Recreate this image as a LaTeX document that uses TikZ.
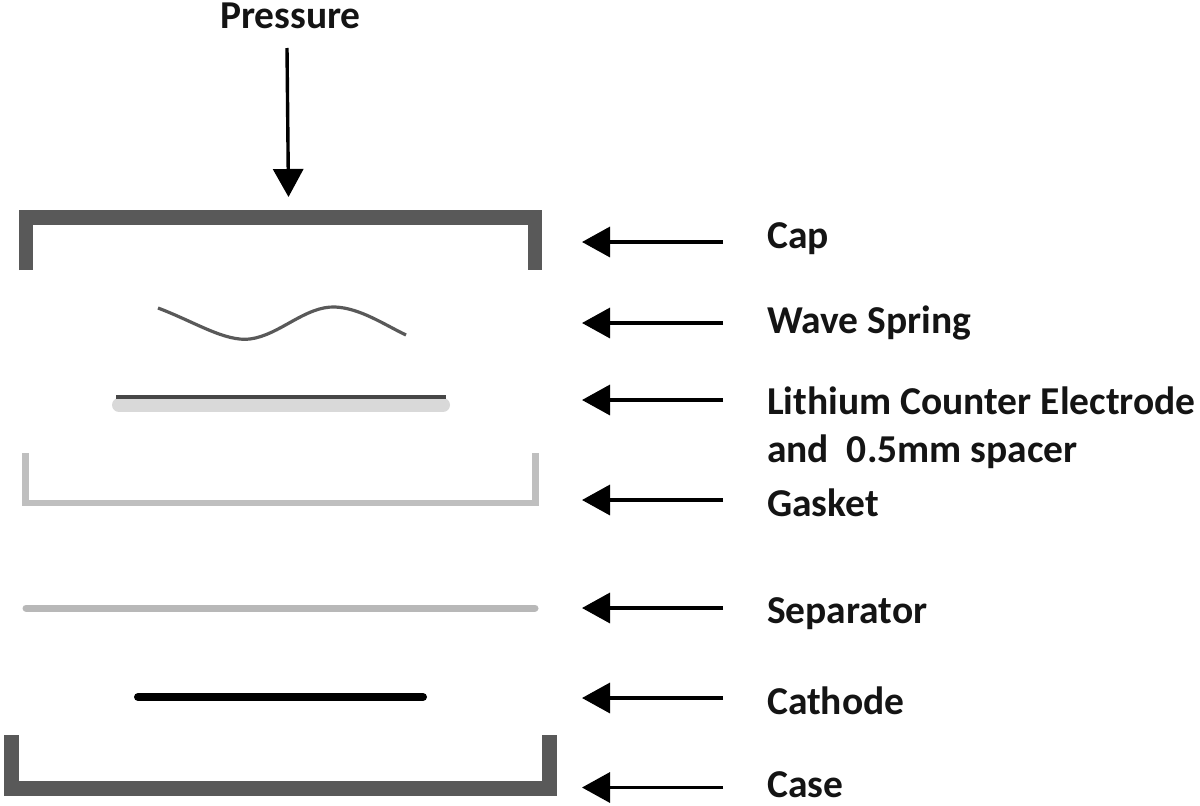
\documentclass[tikz,border=0pt]{standalone}
\usepackage{fontspec}
\setmainfont{Carlito}
\usepackage{tikz}
\usetikzlibrary{arrows.meta,positioning}
\tikzset{
  lbl/.style={font=\fontsize{39.5}{40}\selectfont\bfseries,text=black!92,anchor=base west,inner sep=0pt},
  pointer/.style={-{Triangle[length=28pt,width=30pt]},line width=3.4pt,black},
}
\begin{document}
\begin{tikzpicture}[x=1pt,y=-1pt,line cap=butt,line join=miter]
\path[use as bounding box] (0,0) rectangle (1200,806);
\draw[draw=black!65,line width=14.5pt] (25.75,270) -- (25.75,217.5) -- (534.75,217.5) -- (534.75,270);
\draw[draw=black!65,line width=3.2pt] (158,308) .. controls (195,322) and (225,342) .. (250,339) .. controls (280,335) and (305,306) .. (335,307) .. controls (360,308) and (385,325) .. (406,335);
\draw[draw=black!15,line width=14pt,line cap=round] (119,405) -- (443,405);
\draw[draw=black!72,line width=4pt] (116,396.5) -- (446,396.5);
\draw[draw=black!25,line width=6.5pt] (25.25,453) -- (25.25,503) -- (535.25,503) -- (535.25,453);
\draw[draw=black!28,line width=7pt,line cap=round] (26,608) -- (535,608);
\draw[draw=black,line width=8pt,line cap=round] (138,697) -- (423,697);
\draw[draw=black!65,line width=15pt] (11,735) -- (11,788) -- (549.75,788) -- (549.75,735);
\coordinate (pstart) at (287,48);
\coordinate (pend) at (288.5,197);
\node[lbl] (pressure) at (220,28.5) {Pressure};
\draw[pointer] (pstart) -- (pend);
\node[lbl] (cap) at (767,248.5) {Cap};
\node[lbl] (spring) at (767,333.5) {Wave Spring};
\node[lbl] (lithium) at (767,414.5) {Lithium Counter Electrode};
\node[lbl] (spacer) at (767,462.5) {and\ \ 0.5mm spacer};
\node[lbl] (gasket) at (767,516.5) {Gasket};
\node[lbl] (separator) at (767,623.5) {Separator};
\node[lbl] (cathode) at (767,714.5) {Cathode};
\node[lbl] (case) at (767,797.5) {Case};
\foreach \name/\ypos in {cap/242,spring/323,lithium/400,gasket/500,separator/608,cathode/698,case/787.5}{
  \coordinate (\name tail) at (723,\ypos);
  \coordinate (\name tip) at (582,\ypos);
  \draw[pointer] (\name tail) -- (\name tip);
}
\end{tikzpicture}
\end{document}
